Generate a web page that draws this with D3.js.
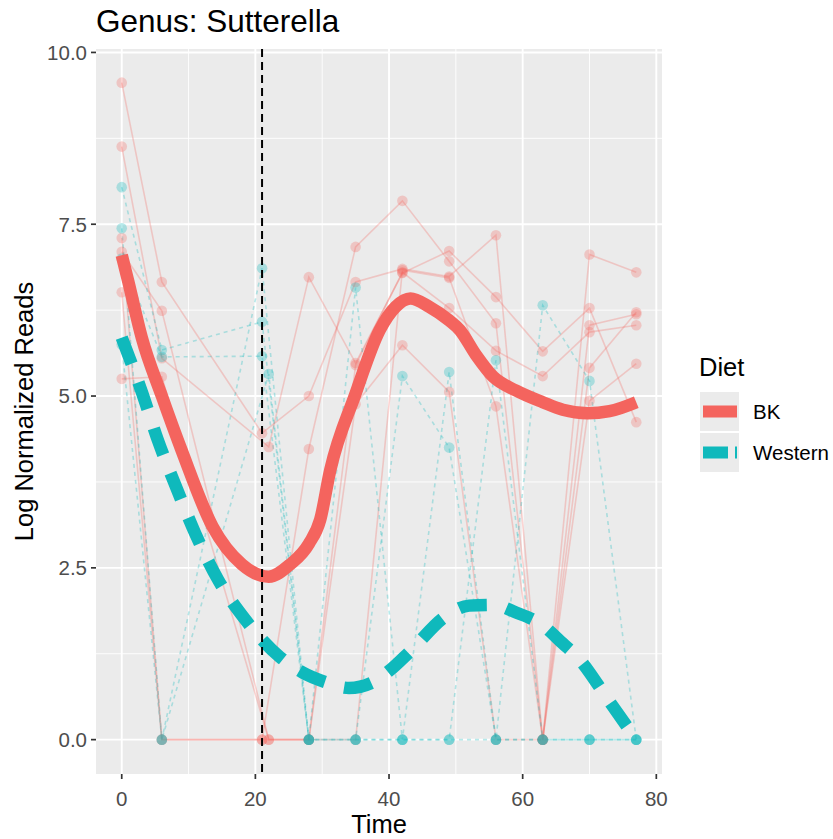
<!DOCTYPE html>
<html><head><meta charset="utf-8">
<script src="https://cdn.jsdelivr.net/npm/d3@7"></script>
<style>body{margin:0;background:#fff}svg{display:block;font-family:"Liberation Sans",Arial,sans-serif}</style>
</head><body><svg id="c" width="833" height="839"></svg>
<script>
// ---- data ----
const timePoints = [0, 6, 21, 28, 35, 42, 49, 56, 63, 70, 77];
const xTicks = [0, 20, 40, 60, 80];
const yTicks = [0, 2.5, 5, 7.5, 10];
const dietNames = ["BK", "Western"];
const dietColors = ["#F4645E", "#0FB9BC"];
const interventionTime = 21;

// BK mice: third sample is at day 21 or 22
const bkThirdTime = [21, 22, 21, 22, 21, 22];
const bkMice = [
  [9.56, 6.66, 4.46, 5.00, 6.66, 6.85, 6.74, 7.34, 0, 6.03, 6.19],
  [8.63, 5.55, 4.26, 6.73, 5.48, 6.79, 7.11, 6.44, 5.65, 6.28, 4.62],
  [7.30, 0, 0, 4.23, 7.17, 7.84, 6.96, 6.06, 0, 7.06, 6.80],
  [7.10, 6.24, 0, 0, 5.45, 6.80, 6.28, 5.66, 5.29, 5.93, 6.03],
  [6.51, 0, 0, 0, 4.88, 5.74, 5.06, 0, 0, 4.93, 5.47],
  [5.25, 5.28, 0, 0, 0, 6.83, 6.72, 4.85, 0, 5.41, 6.22]
];
const westernThirdTime = [21, 21, 21, 22];
const westernMice = [
  [7.44, 0, 6.86, 0, 6.58, 0, 5.35, 0, 0, 0, 0],
  [8.04, 5.67, 6.08, 0, 0, 5.29, 4.25, 0, 0, 0, 0],
  [7.00, 5.57, 5.58, 0, 0, 0, 0, 5.52, 0, 0, 0],
  [5.75, 0, 5.32, 0, 0, 0, 0, 0, 6.32, 5.22, 0]
];
// smoothed trend curves
const bkSmoothT = [0, 1, 3, 6, 9, 13.6, 18, 22, 25.2, 28, 29.7, 31.2, 34.9, 38.6, 41, 43.2, 46, 49, 50.6, 53, 55.6, 59, 63, 66, 69.7, 73, 77];
const bkSmoothV = [7.05, 6.66, 5.85, 5.0, 4.2, 3.1, 2.55, 2.37, 2.55, 2.85, 3.2, 3.92, 5.01, 5.96, 6.3, 6.42, 6.3, 6.1, 5.96, 5.6, 5.28, 5.08, 4.91, 4.8, 4.75, 4.78, 4.91];
const wSmoothT = [0, 3, 5.4, 8.2, 11, 14.4, 18.7, 23.7, 27, 30.7, 34, 37.5, 40, 43.1, 48.4, 52, 55.6, 59, 62.9, 66, 68.3, 72.8, 77];
const wSmoothV = [5.85, 5.06, 4.36, 3.66, 3.0, 2.33, 1.72, 1.2, 0.98, 0.83, 0.75, 0.83, 1.0, 1.28, 1.79, 1.95, 1.96, 1.85, 1.67, 1.4, 1.19, 0.58, 0.0];

// ---- layout ----
const svg = d3.select("#c");
const P = {l: 96, r: 662, t: 49, b: 774};
const x = d3.scaleLinear().domain([-3.85, 80.85]).range([P.l, P.r]);
const y = d3.scaleLinear().domain([-0.5, 10.05]).range([P.b, P.t]);

svg.append("rect").attr("x", P.l).attr("y", P.t).attr("width", P.r - P.l).attr("height", P.b - P.t).attr("fill", "#ebebeb");
const g = svg.append("g");
// minor grid
[10, 30, 50, 70].forEach(v => g.append("line").attr("x1", x(v)).attr("x2", x(v)).attr("y1", P.t).attr("y2", P.b).attr("stroke", "#fff").attr("stroke-width", 0.9));
[1.25, 3.75, 6.25, 8.75].forEach(v => g.append("line").attr("y1", y(v)).attr("y2", y(v)).attr("x1", P.l).attr("x2", P.r).attr("stroke", "#fff").attr("stroke-width", 0.9));
xTicks.forEach(v => g.append("line").attr("x1", x(v)).attr("x2", x(v)).attr("y1", P.t).attr("y2", P.b).attr("stroke", "#fff").attr("stroke-width", 1.9));
yTicks.forEach(v => g.append("line").attr("y1", y(v)).attr("y2", y(v)).attr("x1", P.l).attr("x2", P.r).attr("stroke", "#fff").attr("stroke-width", 1.9));

// individual mice
function mouseData(vals, third) {
  return vals.map((v, i) => ({t: i === 2 ? third : timePoints[i], v}));
}
const line = d3.line().x(d => x(d.t)).y(d => y(d.v));
const bkData = bkMice.map((m, i) => mouseData(m, bkThirdTime[i]));
const wData = westernMice.map((m, i) => mouseData(m, westernThirdTime[i]));

bkData.forEach(d => g.append("path").attr("d", line(d)).attr("fill", "none").attr("stroke", dietColors[0]).attr("stroke-opacity", 0.28).attr("stroke-width", 1.6));
wData.forEach(d => g.append("path").attr("d", line(d)).attr("fill", "none").attr("stroke", dietColors[1]).attr("stroke-opacity", 0.3).attr("stroke-width", 1.6).attr("stroke-dasharray", "4,4"));
bkData.forEach(d => d.forEach(p => g.append("circle").attr("cx", x(p.t)).attr("cy", y(p.v)).attr("r", 5.3).attr("fill", dietColors[0]).attr("fill-opacity", 0.28)));
wData.forEach(d => d.forEach(p => g.append("circle").attr("cx", x(p.t)).attr("cy", y(p.v)).attr("r", 5.3).attr("fill", dietColors[1]).attr("fill-opacity", 0.3)));

// smooth lines
const sm = d3.line().x(d => x(d[0])).y(d => y(d[1])).curve(d3.curveMonotoneX);
g.append("path").attr("d", sm(bkSmoothT.map((t, i) => [t, bkSmoothV[i]]))).attr("fill", "none").attr("stroke", dietColors[0]).attr("stroke-width", 12.5);
g.append("path").attr("d", sm(wSmoothT.map((t, i) => [t, wSmoothV[i]]))).attr("fill", "none").attr("stroke", dietColors[1]).attr("stroke-width", 12.5).attr("stroke-dasharray", "28,20");

// intervention line
g.append("line").attr("x1", x(interventionTime)).attr("x2", x(interventionTime)).attr("y1", P.t).attr("y2", P.b).attr("stroke", "#000").attr("stroke-width", 2).attr("stroke-dasharray", "8,5");

// axes
xTicks.forEach(v => {
  svg.append("line").attr("x1", x(v)).attr("x2", x(v)).attr("y1", P.b).attr("y2", P.b + 5).attr("stroke", "#333").attr("stroke-width", 1.7);
  svg.append("text").attr("x", x(v)).attr("y", 806).attr("text-anchor", "middle").attr("font-size", 20.5).attr("fill", "#4d4d4d").text(v);
});
yTicks.forEach(v => {
  svg.append("line").attr("x1", P.l - 5).attr("x2", P.l).attr("y1", y(v)).attr("y2", y(v)).attr("stroke", "#333").attr("stroke-width", 1.7);
  svg.append("text").attr("x", P.l - 9).attr("y", y(v)).attr("dy", "0.36em").attr("text-anchor", "end").attr("font-size", 20.5).attr("fill", "#4d4d4d").text(d3.format(".1f")(v));
});
svg.append("text").attr("x", (P.l + P.r) / 2).attr("y", 833).attr("text-anchor", "middle").attr("font-size", 25.5).attr("fill", "#000").text("Time");
svg.append("text").attr("transform", `translate(33,${(P.t + P.b) / 2}) rotate(-90)`).attr("text-anchor", "middle").attr("font-size", 25.5).attr("fill", "#000").text("Log Normalized Reads");
svg.append("text").attr("x", P.l).attr("y", 32).attr("font-size", 31.5).attr("fill", "#000").text("Genus: Sutterella");

// legend
const L = svg.append("g");
L.append("text").attr("x", 699).attr("y", 376).attr("font-size", 25.5).text("Diet");
dietNames.forEach((n, i) => {
  const y0 = 392 + i * 41;
  L.append("rect").attr("x", 700).attr("y", y0).attr("width", 39).attr("height", 39).attr("fill", "#ebebeb");
  const ln = L.append("line").attr("x1", 703).attr("x2", 737).attr("y1", y0 + 19.5).attr("y2", y0 + 19.5).attr("stroke", dietColors[i]).attr("stroke-width", 12);
  if (i === 1) ln.attr("stroke-dasharray", "25,7,2,40");
  L.append("text").attr("x", 753).attr("y", y0 + 19.5).attr("dy", "0.36em").attr("font-size", 20.5).text(n);
});
</script></body></html>
